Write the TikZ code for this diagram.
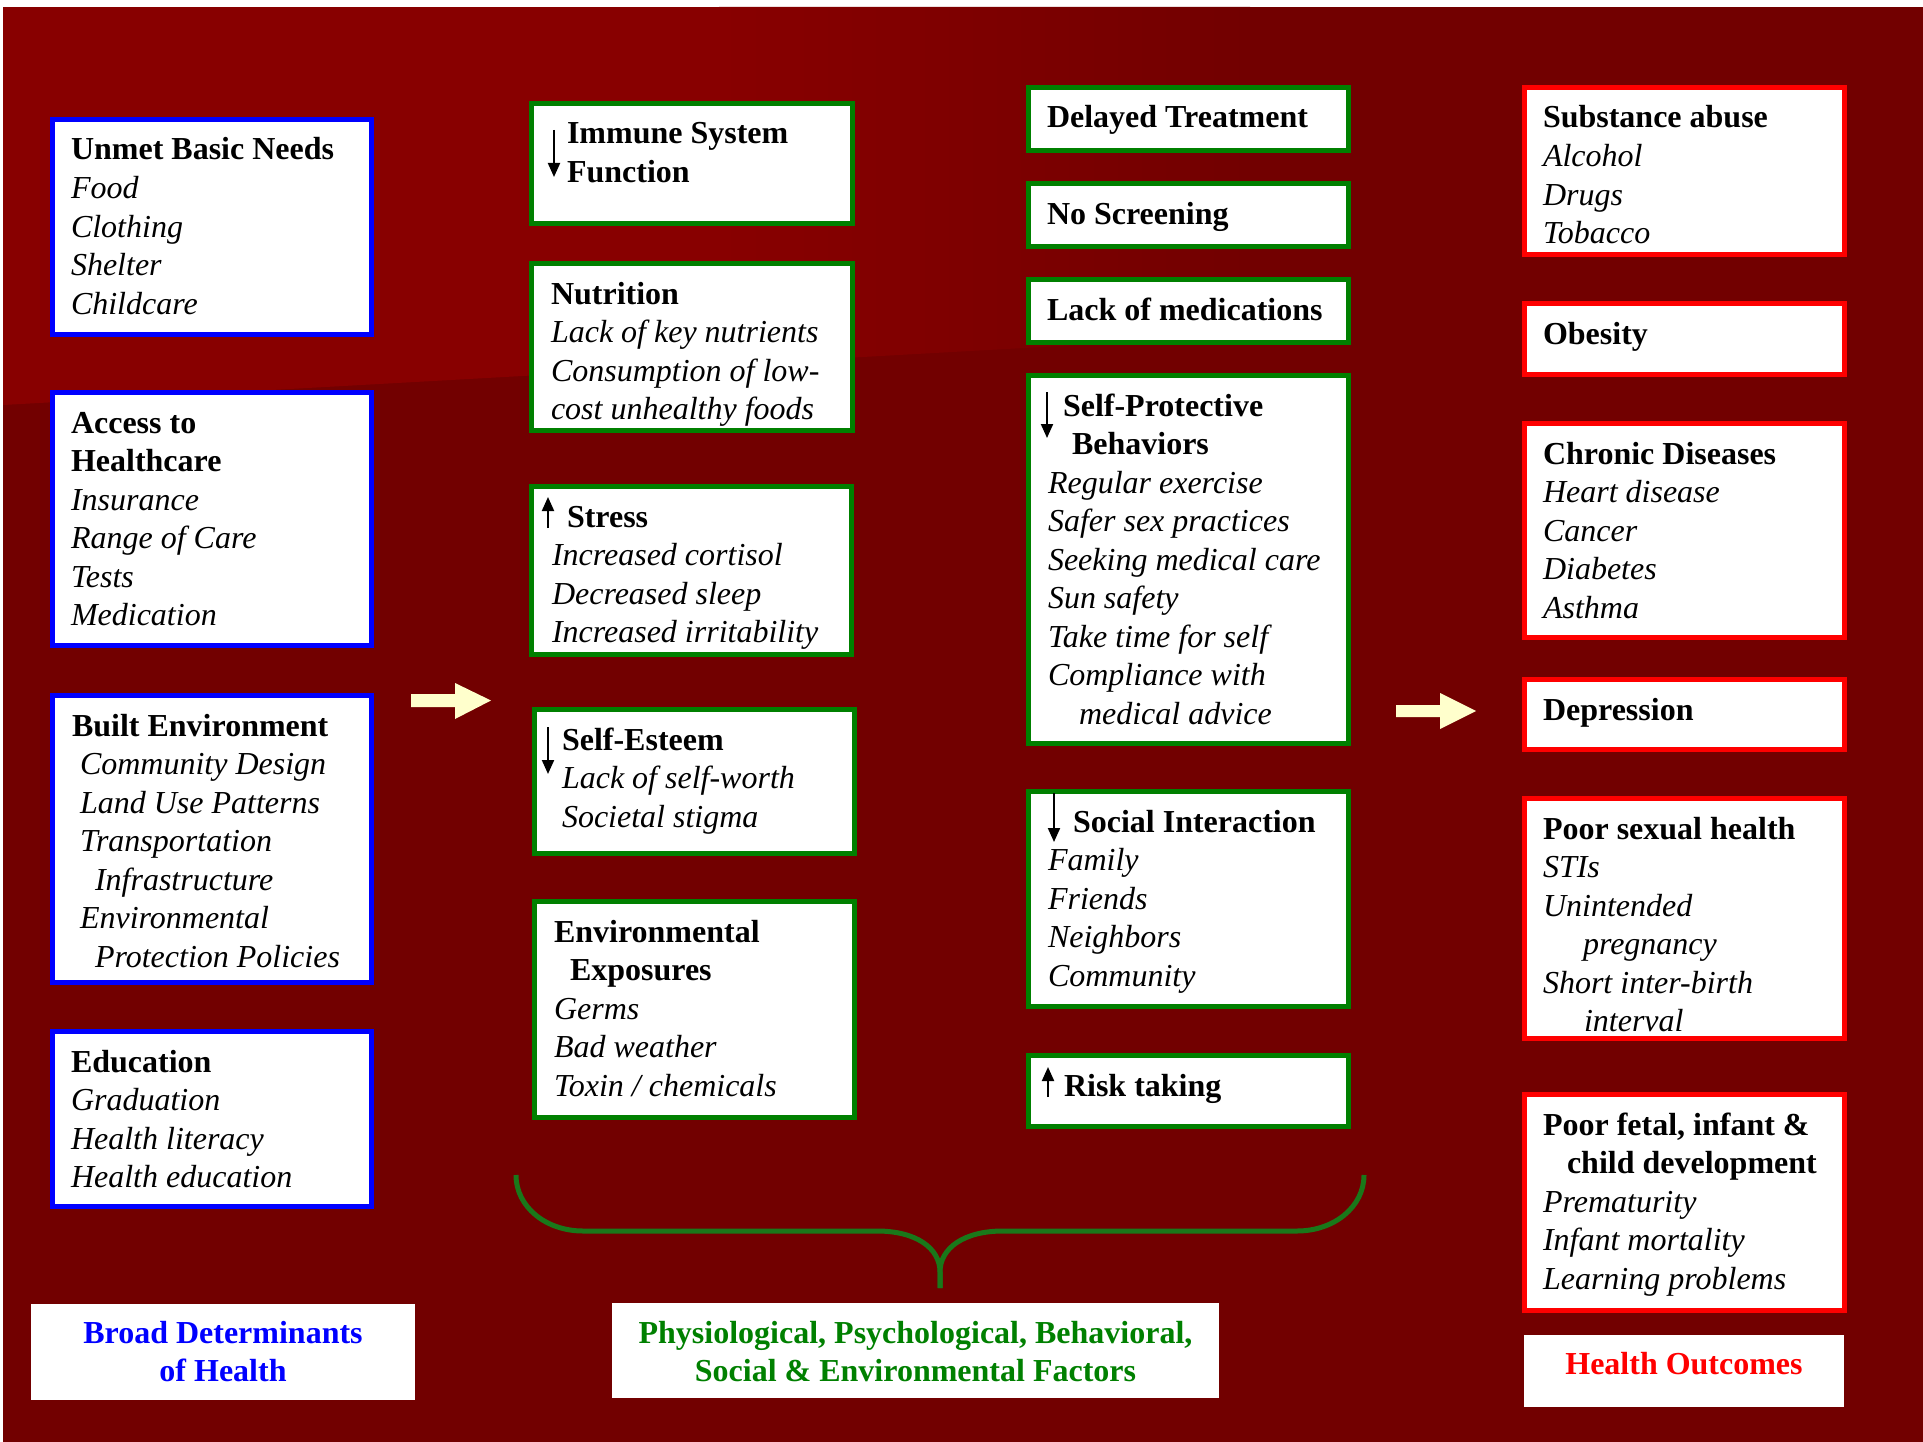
\documentclass[tikz,border=0pt]{standalone}
\usepackage{fontspec}
\setmainfont{Liberation Serif}
\usetikzlibrary{arrows.meta}
\definecolor{bgdark}{HTML}{720000}
\definecolor{bglight}{HTML}{880000}
\definecolor{boxblue}{HTML}{0000FF}
\definecolor{boxgreen}{HTML}{008000}
\definecolor{boxred}{HTML}{FF0000}
\definecolor{arrowyel}{HTML}{FFFFCC}
\definecolor{bracegreen}{HTML}{1A781A}
\newcommand\mkbox[8]{%
  \pgfmathsetmacro\bxw{#5-#3-5}%
  \pgfmathsetmacro\bxh{#6-#4-5}%
  \pgfmathsetmacro\bxin{#7-#3-2.5}%
  \pgfmathsetmacro\bxth{40.5}%
  \pgfmathsetmacro\bxtd{\bxh-\bxth}%
  \node[#2, anchor=north west, inner sep=0pt, outer sep=2.5bp, text height=\bxth bp, text depth=\bxtd bp]
    (#1) at (#3,#4)
    {\begin{minipage}[t]{\bxw bp}\fontsize{32bp}{38.5bp}\selectfont\raggedright\leftskip=\bxin bp #8\end{minipage}};%
}
\newcommand\mklabel[8]{%
  \pgfmathsetmacro\bxw{#5-#3}%
  \pgfmathsetmacro\bxth{#7-#4}%
  \pgfmathsetmacro\bxtd{#6-#7}%
  \node[labelbox, text=#2, anchor=north west, text height=\bxth bp, text depth=\bxtd bp]
    (#1) at (#3,#4)
    {\begin{minipage}[t]{\bxw bp}\fontsize{32bp}{38.5bp}\selectfont\centering\bfseries #8\end{minipage}};%
}
\newcommand\ind[1]{\hspace*{#1bp}}
\begin{document}
\begin{tikzpicture}[x=1bp,y=-1bp,
  bluebox/.style={draw=boxblue, line width=5bp, fill=white},
  greenbox/.style={draw=boxgreen, line width=5bp, fill=white},
  redbox/.style={draw=boxred, line width=5bp, fill=white},
  labelbox/.style={fill=white, inner sep=0pt, outer sep=0pt},
  smallarr/.style={draw=black, line width=2bp, -{Triangle[length=14bp,width=12bp]}},
  bigarr/.style={fill=arrowyel},
  bracestyle/.style={draw=bracegreen, line width=5bp}]
\useasboundingbox (0,0) rectangle (1923,1442);
% background
\fill[white] (0,0) rectangle (1923,1442);
\fill[bgdark] (3,7) rectangle (1923,1442);
\begin{scope}
  \clip (3,7) -- (1400,7) -- (1400,327) -- (3,405) -- cycle;
  \fill[bglight] (3,7) rectangle (720,420);
  \shade[left color=bglight, right color=bgdark] (719,7) rectangle (1250,420);
\end{scope}

% column 1: broad determinants
\mkbox{unmet}{bluebox}{50}{117}{374}{337}{71}{\textbf{Unmet Basic Needs}\\ \textit{Food}\\ \textit{Clothing}\\ \textit{Shelter}\\ \textit{Childcare}}
\mkbox{access}{bluebox}{50}{390}{374}{648}{71}{\textbf{Access to}\\ \textbf{Healthcare}\\ \textit{Insurance}\\ \textit{Range of Care}\\ \textit{Tests}\\ \textit{Medication}}
\mkbox{built}{bluebox}{50}{693}{374}{985}{72}{\textbf{Built Environment}\\ \ind{8}\textit{Community Design}\\ \ind{8}\textit{Land Use Patterns}\\ \ind{8}\textit{Transportation}\\ \ind{23}\textit{Infrastructure}\\ \ind{8}\textit{Environmental}\\ \ind{23}\textit{Protection Policies}}
\mkbox{educ}{bluebox}{50}{1029}{374}{1209}{71}{\textbf{Education}\\ \textit{Graduation}\\ \textit{Health literacy}\\ \textit{Health education}}

% column 2
\mkbox{immune}{greenbox}{529}{101}{855}{226}{567}{\textbf{Immune System}\\ \textbf{Function}}
\mkbox{nutri}{greenbox}{529}{261}{855}{433}{551}{\textbf{Nutrition}\\ \textit{Lack of key nutrients}\\ \textit{Consumption of low-}\\ \textit{cost unhealthy foods}}
\mkbox{stress}{greenbox}{529}{484}{854}{657}{552}{\ind{15}\textbf{Stress}\\ \textit{Increased cortisol}\\ \textit{Decreased sleep}\\ \textit{Increased irritability}}
\mkbox{esteem}{greenbox}{532}{707}{857}{856}{562}{\textbf{Self-Esteem}\\ \textit{Lack of self-worth}\\ \textit{Societal stigma}}
\mkbox{envexp}{greenbox}{532}{899}{857}{1120}{554}{\textbf{Environmental}\\ \ind{16}\textbf{Exposures}\\ \textit{Germs}\\ \textit{Bad weather}\\ \textit{Toxin / chemicals}}

% column 3
\mkbox{delayed}{greenbox}{1026}{85}{1351}{153}{1047}{\textbf{Delayed Treatment}}
\mkbox{noscreen}{greenbox}{1026}{181}{1351}{249}{1047}{\textbf{No Screening}}
\mkbox{lackmed}{greenbox}{1026}{277}{1351}{345}{1047}{\textbf{Lack of medications}}
\mkbox{selfprot}{greenbox}{1026}{373}{1351}{746}{1048}{\ind{15}\textbf{Self-Protective}\\ \ind{24}\textbf{Behaviors}\\ \textit{Regular exercise}\\ \textit{Safer sex practices}\\ \textit{Seeking medical care}\\ \textit{Sun safety}\\ \textit{Take time for self}\\ \textit{Compliance with}\\ \ind{31}\textit{medical advice}}
\mkbox{social}{greenbox}{1026}{789}{1351}{1009}{1048}{\ind{25}\textbf{Social Interaction}\\ \textit{Family}\\ \textit{Friends}\\ \textit{Neighbors}\\ \textit{Community}}
\mkbox{risk}{greenbox}{1026}{1053}{1351}{1129}{1064}{\textbf{Risk taking}}

% column 4
\mkbox{subst}{redbox}{1522}{85}{1847}{257}{1543}{\textbf{Substance abuse}\\ \textit{Alcohol}\\ \textit{Drugs}\\ \textit{Tobacco}}
\mkbox{obesity}{redbox}{1522}{301}{1847}{377}{1543}{\textbf{Obesity}}
\mkbox{chronic}{redbox}{1522}{421}{1847}{640}{1543}{\textbf{Chronic Diseases}\\ \textit{Heart disease}\\ \textit{Cancer}\\ \textit{Diabetes}\\ \textit{Asthma}}
\mkbox{depress}{redbox}{1522}{677}{1847}{752}{1543}{\textbf{Depression}}
\mkbox{sexual}{redbox}{1522}{796}{1847}{1041}{1543}{\textbf{Poor sexual health}\\ \textit{STIs}\\ \textit{Unintended}\\ \ind{40}\textit{pregnancy}\\ \textit{Short inter-birth}\\ \ind{41}\textit{interval}}
\mkbox{fetal}{redbox}{1522}{1092}{1847}{1313}{1543}{\textbf{Poor fetal, infant \&}\\ \ind{24}\textbf{child development}\\ \textit{Prematurity}\\ \textit{Infant mortality}\\ \textit{Learning problems}}

% small arrows inside boxes
\draw[smallarr] (554,130) -- (554,177);
\draw[smallarr] (548,528) -- (548,497);
\draw[smallarr] (548,727) -- (548,774);
\draw[smallarr] (1047,392) -- (1047,438);
\draw[smallarr] (1054,793) -- (1054,842);
\draw[smallarr] (1048,1097) -- (1048,1067);

% big arrows
\fill[bigarr] (411,694) -- (455,694) -- (455,683) -- (491,700.5) -- (455,719) -- (455,707) -- (411,707) -- cycle;
\fill[bigarr] (1396,705) -- (1440,705) -- (1440,693) -- (1476,711) -- (1440,729) -- (1440,717) -- (1396,717) -- cycle;

% brace
\draw[bracestyle] (516,1175) .. controls (516,1207) and (546,1231) .. (583,1231) -- (877,1231)
  .. controls (916,1231) and (940,1248) .. (940,1272) -- (940,1288);
\draw[bracestyle] (940,1288) -- (940,1272) .. controls (940,1248) and (964,1231) .. (1003,1231)
  -- (1297,1231) .. controls (1334,1231) and (1364,1207) .. (1364,1175);

% labels
\mklabel{lblbroad}{boxblue}{31}{1304}{415}{1400}{1343}{Broad Determinants\\ of Health}
\mklabel{lblphys}{boxgreen}{612}{1303}{1219}{1398}{1343}{Physiological, Psychological, Behavioral,\\ Social \& Environmental Factors}
\mklabel{lblout}{boxred}{1524}{1335}{1844}{1407}{1374}{Health Outcomes}
\end{tikzpicture}
\end{document}
